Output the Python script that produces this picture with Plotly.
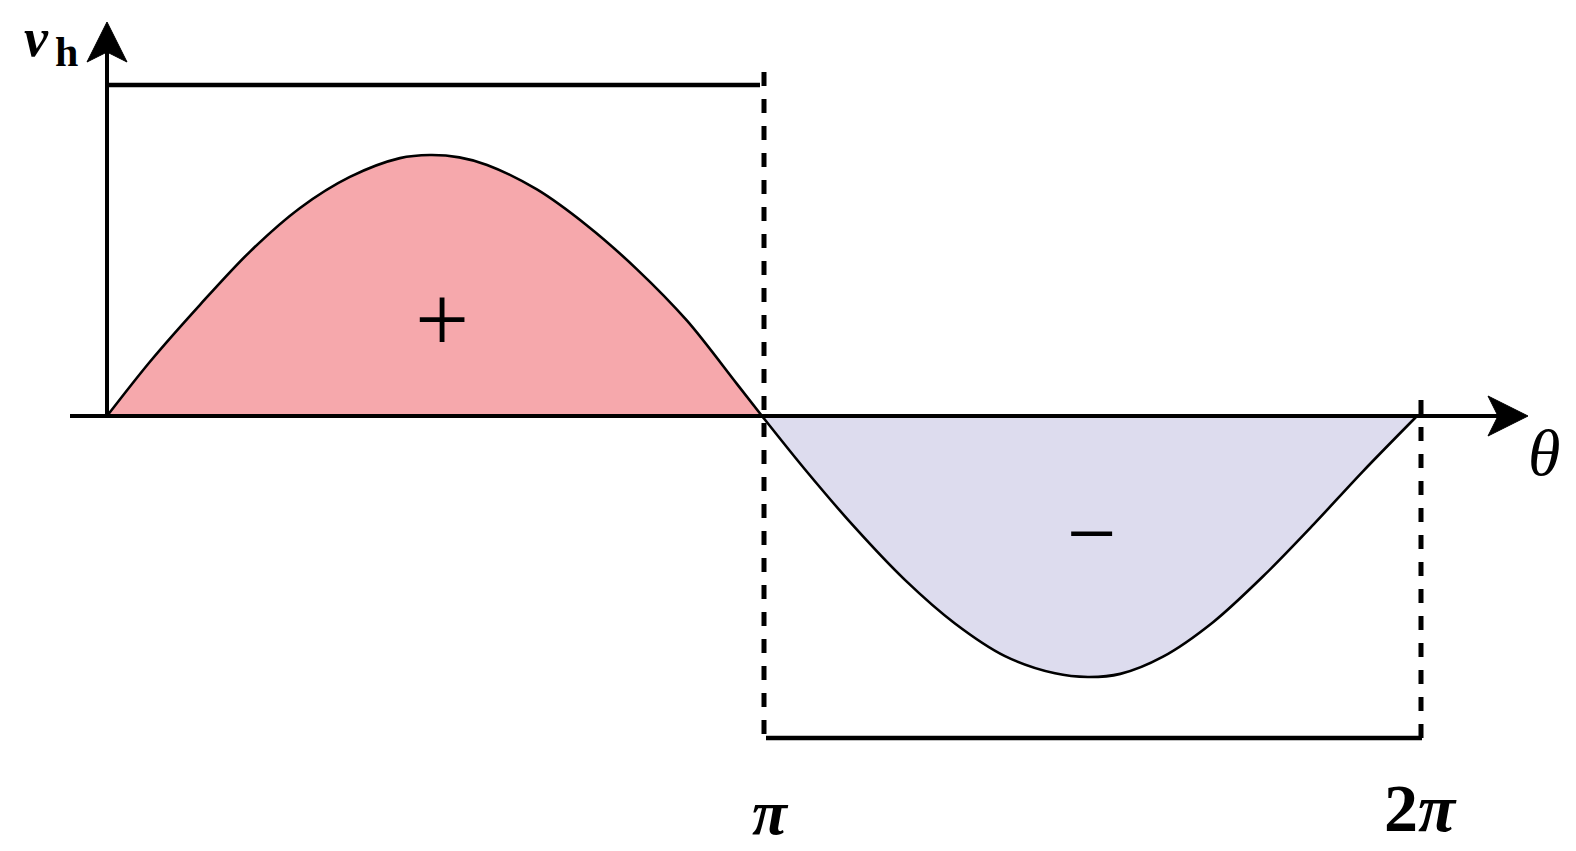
import plotly.graph_objects as go
import math

# ---- data (theta in radians, v normalised) ----
pos_theta = [0.0, 0.206, 0.446, 0.686, 0.926, 1.165, 1.405, 1.549, 1.690, 1.823, 2.062, 2.302, 2.542, 2.782, 3.022, 3.1416]
pos_v     = [0.0, 0.208, 0.426, 0.630, 0.797, 0.916, 0.988, 1.000, 0.991, 0.962, 0.868, 0.730, 0.562, 0.365, 0.122, 0.0]
neg_theta = [3.1416, 3.348, 3.588, 3.827, 4.067, 4.307, 4.547, 4.705, 4.860, 5.065, 5.305, 5.544, 5.784, 6.024, 6.2832]
neg_v     = [0.0, -0.205, -0.428, -0.628, -0.795, -0.920, -0.986, -1.000, -0.988, -0.922, -0.790, -0.615, -0.418, -0.212, 0.0]

tick_labels = ["<b><i>π</i></b>", "<b>2<i>π</i></b>"]
tick_pos = [math.pi, 2 * math.pi]
region_signs = ["+", "−"]

W, H = 1576, 851
OFF = 8                          # body margin of the html page
X0PX, Y0PX = 107, 416            # page pixel of origin
KX = 1310 / (2 * math.pi)        # px per radian
KY = 261.0                       # px per unit

def tx(px):
    return (px - X0PX) / KX

def ty(py):
    return (Y0PX - py) / KY

fig = go.Figure()

POS_FILL = "rgb(246,168,172)"
NEG_FILL = "rgb(221,220,238)"

for th, vv, fc in [(pos_theta, pos_v, POS_FILL), (neg_theta, neg_v, NEG_FILL)]:
    fig.add_trace(go.Scatter(x=th, y=vv, mode="lines", fill="tozeroy", fillcolor=fc,
                             line=dict(color="black", width=2.6, shape="spline", smoothing=0.9),
                             hoverinfo="skip", showlegend=False))

top_v = ty(85)
bot_v = ty(738)
# upper bracket line over the positive half
fig.add_trace(go.Scatter(x=[0, tx(760)], y=[top_v, top_v], mode="lines",
                         line=dict(color="black", width=4.5), hoverinfo="skip", showlegend=False))
# lower bracket line under the negative half
fig.add_trace(go.Scatter(x=[tx(766), tx(1422)], y=[bot_v, bot_v], mode="lines",
                         line=dict(color="black", width=4.5), hoverinfo="skip", showlegend=False))
# dashed verticals
fig.add_trace(go.Scatter(x=[tx(764), tx(764)], y=[ty(72), bot_v], mode="lines",
                         line=dict(color="black", width=5, dash="14px,13px"), hoverinfo="skip", showlegend=False))
fig.add_trace(go.Scatter(x=[tx(1421), tx(1421)], y=[ty(400), bot_v], mode="lines",
                         line=dict(color="black", width=5, dash="14px,13px"), hoverinfo="skip", showlegend=False))

# theta axis
fig.add_trace(go.Scatter(x=[tx(70), tx(1505)], y=[0, 0], mode="lines",
                         line=dict(color="black", width=4), hoverinfo="skip", showlegend=False))
fig.add_trace(go.Scatter(x=[tx(1488), tx(1528), tx(1488), tx(1498), tx(1488)],
                         y=[ty(396), ty(416), ty(436), ty(416), ty(396)],
                         mode="lines", fill="toself", fillcolor="black", line=dict(color="black", width=1),
                         hoverinfo="skip", showlegend=False))
# v axis
fig.add_trace(go.Scatter(x=[0, 0], y=[0, ty(50)], mode="lines",
                         line=dict(color="black", width=4), hoverinfo="skip", showlegend=False))
fig.add_trace(go.Scatter(x=[tx(87), tx(107), tx(127), tx(107), tx(87)],
                         y=[ty(62), ty(22), ty(62), ty(52), ty(62)],
                         mode="lines", fill="toself", fillcolor="black", line=dict(color="black", width=1),
                         hoverinfo="skip", showlegend=False))

SERIF = "Liberation Serif"
ann = []
ann.append(dict(x=tx(36), y=ty(38), text="<i><b>v</b></i>", font=dict(family=SERIF, size=54, color="black")))
ann.append(dict(x=tx(66), y=ty(52), text="<b>h</b>", font=dict(family=SERIF, size=42, color="black")))
ann.append(dict(x=tx(1544), y=ty(452), text="<i>θ</i>", font=dict(family=SERIF, size=66, color="black")))
ann.append(dict(x=tx(770), y=ty(812), text=tick_labels[0], font=dict(family=SERIF, size=64, color="black")))
ann.append(dict(x=tx(1420), y=ty(808), text=tick_labels[1], font=dict(family=SERIF, size=68, color="black")))
ann.append(dict(x=tx(442), y=ty(318), text=region_signs[0], font=dict(family=SERIF, size=96, color="black")))
ann.append(dict(x=tx(1092), y=ty(533), text=region_signs[1], font=dict(family=SERIF, size=88, color="black")))
for a in ann:
    a.update(showarrow=False, xref="x", yref="y", xanchor="center", yanchor="middle")

fig.update_layout(
    width=W, height=H,
    margin=dict(l=0, r=0, t=0, b=0),
    paper_bgcolor="white", plot_bgcolor="white",
    xaxis=dict(range=[tx(OFF), tx(OFF + W)], visible=False, fixedrange=True),
    yaxis=dict(range=[ty(OFF + H), ty(OFF)], visible=False, fixedrange=True),
    annotations=ann,
    showlegend=False,
)

fig.write_html("out.html")
